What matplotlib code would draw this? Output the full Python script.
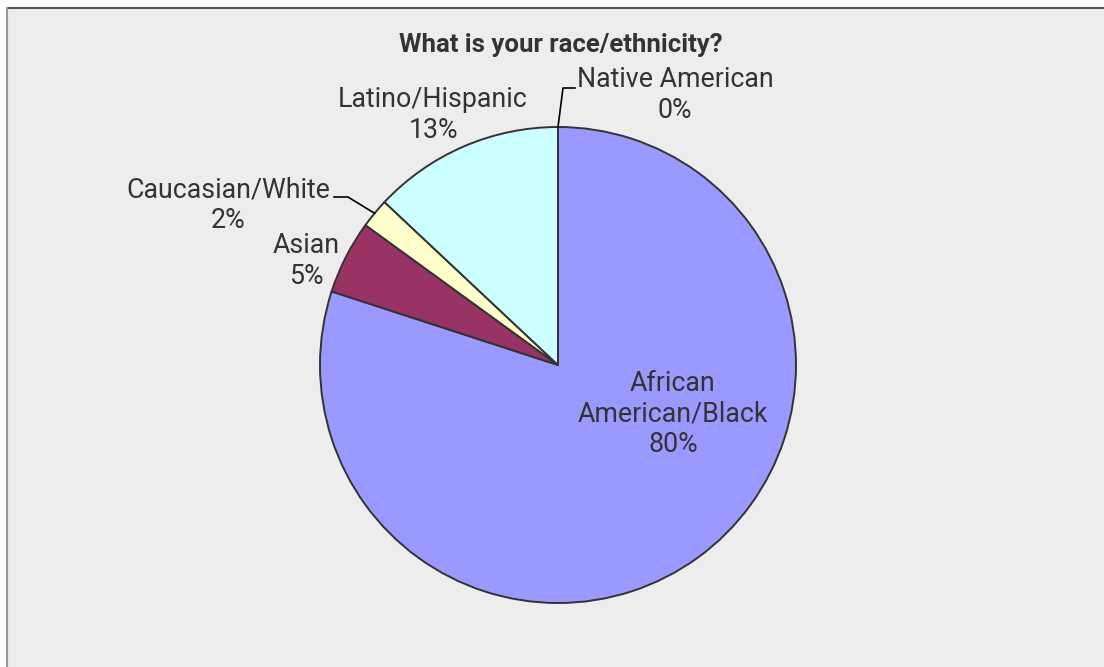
import numpy as np
import matplotlib
matplotlib.use("Agg")
import matplotlib.pyplot as plt
from matplotlib.patches import Rectangle
from matplotlib.lines import Line2D

plt.rcParams['font.family'] = ['Roboto', 'DejaVu Sans']

# survey answers, clockwise from 12 o'clock
groups = ['African\nAmerican/Black', 'Asian', 'Caucasian/White',
          'Latino/Hispanic', 'Native American']
shares = [80, 5, 2, 13, 0]
colors = ['#9999FF', '#993366', '#FFFFCC', '#CCFFFF', '#9999FF']

W, H = 1104, 667
fig = plt.figure(figsize=(W / 100, H / 100), dpi=100, facecolor='white')

# grey chart area with its frame
fig.patches.append(Rectangle((7 / W, 0), 1 - 7 / W, 1 - 8 / H,
                             transform=fig.transFigure, facecolor='#EDEDED',
                             edgecolor='none', zorder=-5))
fig.add_artist(Line2D([7 / W, 1], [1 - 8 / H, 1 - 8 / H], color='#555555',
                      lw=1.5, zorder=-4))
fig.add_artist(Line2D([7 / W, 7 / W], [0, 1 - 8 / H], color='#999999',
                      lw=1.5, zorder=-4))

cx, cy, r = 558, 365, 238
ax = fig.add_axes([(cx - r) / W, (H - cy - r) / H, 2 * r / W, 2 * r / H])
ax.set_facecolor('none')

wedges, _ = ax.pie(shares, colors=colors, startangle=90, counterclock=False,
                   radius=1.0,
                   wedgeprops=dict(edgecolor='#333333', linewidth=1.4))
ax.set_xlim(-1, 1)
ax.set_ylim(-1, 1)
ax.set_aspect('equal')
ax.axis('off')


def px(x, y):
    """pixel position -> pie data coordinates"""
    return (x - cx) / r, (cy - y) / r


label_pos = [px(673, 414), px(306, 261), px(228, 205), px(433, 115), px(675, 95)]
for name, val, pos in zip(groups, shares, label_pos):
    ax.text(pos[0], pos[1], f'{name}\n{val}%', ha='center', va='center',
            fontsize=19.3, color='#333333', linespacing=1.18)


def edge_point(w):
    mid = np.deg2rad((w.theta1 + w.theta2) / 2)
    return np.cos(mid), np.sin(mid)


# leader lines for the two thin slices
ex, ey = edge_point(wedges[2])
ax.plot([px(334, 197)[0], px(348, 197)[0], ex],
        [px(334, 197)[1], px(348, 197)[1], ey],
        color='black', lw=1.2, clip_on=False)
ex, ey = edge_point(wedges[4])
ax.plot([ex, px(563, 88)[0], px(575, 88)[0]],
        [ey, px(563, 88)[1], px(575, 88)[1]],
        color='black', lw=1.2, clip_on=False)

fig.text(560.5 / W, 1 - 45 / H, 'What is your race/ethnicity?', ha='center',
         va='center', fontsize=18.5, fontweight='bold', color='#333333')

fig.savefig('out.png', dpi=100, facecolor='white')
